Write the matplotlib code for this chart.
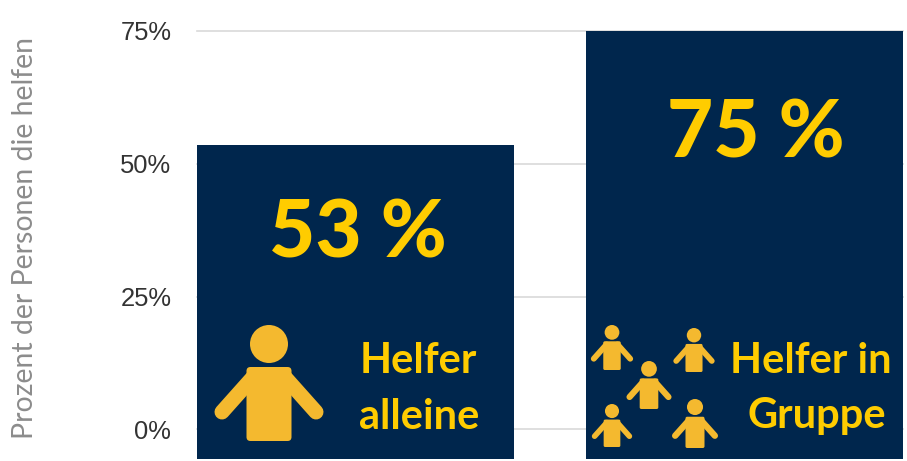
import matplotlib
matplotlib.use('Agg')
import matplotlib.pyplot as plt
from matplotlib.patches import Circle, FancyBboxPatch

# data
categories = ['Helfer alleine', 'Helfer in Gruppe']
values = [53.5, 75]
value_labels = ['53 %', '75 %']
ticks = [0, 25, 50, 75]
tick_labels = ['0%', '25%', '50%', '75%']
ylabel = 'Prozent der Personen die helfen'

NAVY = '#00264d'
YELLOW = '#ffcc00'
ICON = '#f4b92f'
W, H = 907, 461
DPI = 100
PX = 72 / DPI

fig = plt.figure(figsize=(W / DPI, H / DPI), dpi=DPI)
ax = fig.add_axes([197 / W, 1 - 459 / H, (903 - 197) / W, (459 - 31) / H])

x = range(len(values))
ax.bar(x, [v + 5.6 for v in values], bottom=-5.6, width=0.815, color=NAVY, zorder=3)
ax.set_xlim(-0.4075, 1.4075)
ax.set_ylim(-5.6, 75)
ax.set_xticks([])
ax.set_yticks(ticks)
ax.set_yticklabels(tick_labels, family='Liberation Sans', fontsize=18.4, color='#333333')
ax.tick_params(axis='y', length=0, pad=18.5)
ax.grid(axis='y', color='#d9d9d9', linewidth=1.2, zorder=0)
ax.set_axisbelow(True)
for s in ax.spines.values():
    s.set_visible(False)
for g in ax.yaxis.get_gridlines():
    g.set_clip_on(False)
for p in ax.patches:
    p.set_clip_on(False)

# overlay in pixel coordinates for the icons and the labels inside the bars
over = fig.add_axes([0, 0, 1, 1], zorder=5)
over.set_xlim(0, W)
over.set_ylim(H, 0)
over.axis('off')


def person(cx, top, h):
    s = h / 116
    over.add_patch(Circle((cx, top + 19 * s), 19 * s, color=ICON, lw=0))
    over.add_patch(FancyBboxPatch((cx - 17.5 * s, top + 47 * s), 35 * s, 64 * s,
                                  boxstyle=f'round,pad={5 * s},rounding_size={4 * s}',
                                  color=ICON, lw=0))
    for d in (-1, 1):
        over.plot([cx + d * 14 * s, cx + d * 47 * s], [top + 50 * s, top + 87 * s],
                  color=ICON, lw=15 * s * PX, solid_capstyle='round')


person(269, 325, 116)
for cx, top, h in [(612, 325, 45), (694, 328, 44), (649, 361, 48), (612, 404, 43), (695, 399, 49)]:
    person(cx, top, h)

big = dict(family='Lato', fontweight='black', color=YELLOW, ha='center', va='center')
over.text(358, 234, value_labels[0], fontsize=57.5, **big)
over.text(756, 134, value_labels[1], fontsize=57.5, **big)
for tx, ty, s in [(418, 361, 'Helfer'), (419, 417, 'alleine'), (811, 361, 'Helfer in'), (817, 416, 'Gruppe')]:
    over.text(tx, ty, s, fontsize=30, family='Lato', fontweight='bold',
              color=YELLOW, ha='center', va='center')

over.text(25, 238, ylabel, rotation=90, fontsize=20.4, family='Lato', fontweight='normal',
          color='#8c8c8c', ha='center', va='center')

fig.savefig('out.png', dpi=DPI)
